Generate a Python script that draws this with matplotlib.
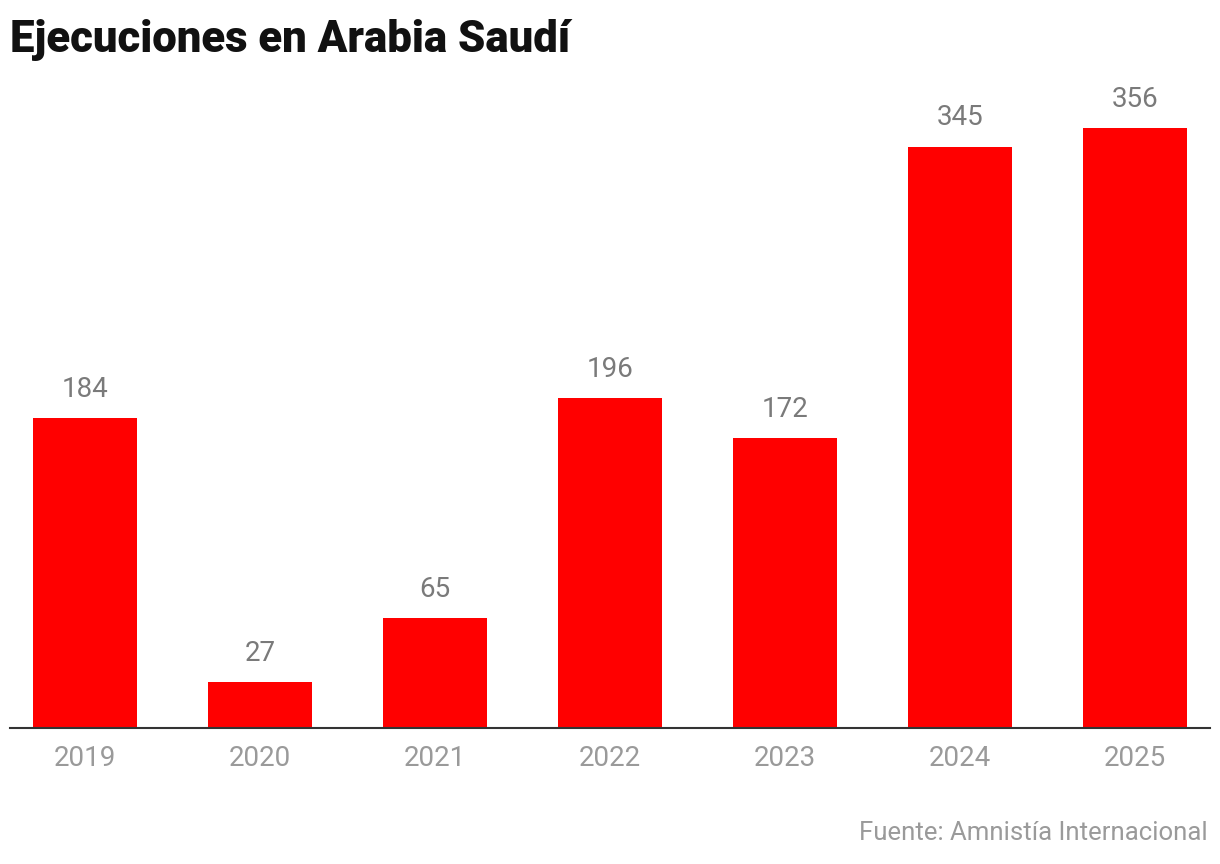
import matplotlib
matplotlib.use("Agg")
import matplotlib.pyplot as plt

years = ["2019", "2020", "2021", "2022", "2023", "2024", "2025"]
values = [184, 27, 65, 196, 172, 345, 356]

fig = plt.figure(figsize=(12.2, 8.64), dpi=100)
ax = fig.add_axes([10/1220, 136/864, 1200/1220, 648/864])
x = range(len(years))
ax.bar(x, values, width=0.594, color="#ff0000")
for i, v in zip(x, values):
    ax.text(i, v + 9, str(v), ha="center", va="bottom", fontsize=20,
            color="#7a7a7a", family="Roboto")
ax.set_xlim(-0.43, 6.43)
ax.set_ylim(0, 384.5)
ax.set_xticks(list(x))
ax.set_xticklabels(years, fontsize=20, color="#9a9a9a", family="Roboto")
ax.tick_params(axis="x", length=0, pad=12)
ax.set_yticks([])
for s in ["top", "right", "left"]:
    ax.spines[s].set_visible(False)
ax.spines["bottom"].set_color("#333333")
ax.spines["bottom"].set_linewidth(1.5)
fig.text(10/1220, 1 - 40/864, "Ejecuciones en Arabia Saudí", fontsize=31.5,
         fontweight="black", family="Roboto", color="#111111", va="center", ha="left")
fig.text(1208/1220, 1 - 833/864, "Fuente: Amnistía Internacional", fontsize=18.5,
         color="#9a9a9a", family="Roboto", ha="right", va="center")
fig.savefig("out.png", dpi=100)
